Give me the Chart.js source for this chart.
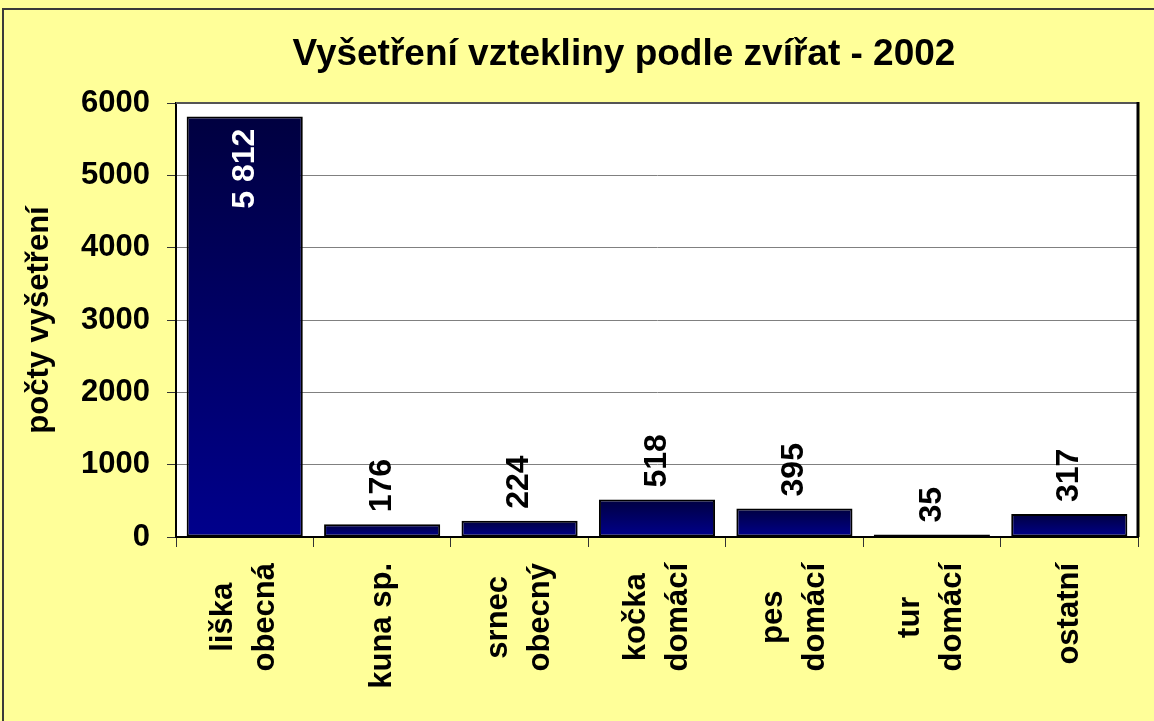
<!DOCTYPE html>
<html>
<head>
<meta charset="utf-8">
<script src="https://cdn.jsdelivr.net/npm/chart.js@4.4.1/dist/chart.umd.min.js"></script>
<style>
  html, body { margin: 0; padding: 0; background: #FFFF99; }
  #c { display: block; }
</style>
</head>
<body>
<canvas id="c" width="1154" height="721"></canvas>
<script>
// ---- data ----
const chartTitle = 'Vyšetření vztekliny podle zvířat - 2002';
const yAxisTitle = 'počty vyšetření';
const categories = [
  ['liška', 'obecná'],
  ['kuna sp.'],
  ['srnec', 'obecný'],
  ['kočka', 'domácí'],
  ['pes', 'domácí'],
  ['tur', 'domácí'],
  ['ostatní']
];
const counts = [5812, 176, 224, 518, 395, 35, 317];
const yTicks = [0, 1000, 2000, 3000, 4000, 5000, 6000];

// ---- styles ----
const FONT = '"Liberation Sans", Arial, Helvetica, sans-serif';
const BG = '#FFFF99';
const BAR_TOP = '#000040';
const BAR_BOTTOM = '#00008C';

function fmt(v) { return String(v).replace(/\B(?=(\d{3})+(?!\d))/g, ' '); }

const decorPlugin = {
  id: 'decor',
  beforeDraw(chart) {
    const { ctx, chartArea: a } = chart;
    ctx.save();
    ctx.fillStyle = BG;
    ctx.fillRect(0, 0, chart.width, chart.height);
    ctx.fillStyle = '#FFFFFF';
    ctx.fillRect(a.left, a.top, a.right - a.left, a.bottom - a.top);
    // outer frame
    ctx.strokeStyle = '#3a3a3a';
    ctx.lineWidth = 2;
    ctx.strokeRect(3, 9, chart.width + 20, chart.height + 20);
    ctx.restore();
  },
  afterDatasetsDraw(chart) {
    const { ctx, chartArea: a } = chart;
    ctx.save();
    // plot area top and right border
    ctx.strokeStyle = '#555555';
    ctx.lineWidth = 2;
    ctx.beginPath();
    ctx.moveTo(a.left, a.top);
    ctx.lineTo(a.right, a.top);
    ctx.stroke();
    ctx.strokeStyle = '#000000';
    ctx.lineWidth = 3;
    ctx.beginPath();
    ctx.moveTo(a.right, a.top - 1);
    ctx.lineTo(a.right, a.bottom);
    ctx.stroke();

    // value labels
    const meta = chart.getDatasetMeta(0);
    const data = chart.data.datasets[0].data;
    ctx.font = 'bold 32px ' + FONT;
    ctx.textBaseline = 'middle';
    meta.data.forEach((bar, i) => {
      const txt = fmt(data[i]);
      const w = ctx.measureText(txt).width;
      ctx.save();
      if (bar.y - 12 - w < a.top) {
        ctx.translate(bar.x, bar.y + 12);
        ctx.rotate(-Math.PI / 2);
        ctx.textAlign = 'right';
        ctx.fillStyle = '#FFFFFF';
      } else {
        ctx.translate(bar.x, bar.y - 12);
        ctx.rotate(-Math.PI / 2);
        ctx.textAlign = 'left';
        ctx.fillStyle = '#000000';
      }
      ctx.fillText(txt, 0, 0);
      ctx.restore();
    });
    ctx.restore();
  },
  afterDraw(chart) {
    const { ctx } = chart;
    ctx.save();
    // chart title
    ctx.font = 'bold 37px ' + FONT;
    ctx.fillStyle = '#000000';
    ctx.textAlign = 'center';
    ctx.textBaseline = 'middle';
    ctx.fillText(chartTitle, 624, 55);

    // category labels (rotated, lines centred)
    const xs = chart.scales.x;
    ctx.font = 'bold 31px ' + FONT;
    const lineGap = 42;
    const topY = xs.top + 26;
    chart.data.labels.forEach((lines, i) => {
      const cx = xs.getPixelForValue(i);
      const maxW = Math.max(...lines.map(l => ctx.measureText(l).width));
      const cy = topY + maxW / 2;
      lines.forEach((line, j) => {
        const lx = cx + (j - (lines.length - 1) / 2) * lineGap;
        ctx.save();
        ctx.translate(lx, cy);
        ctx.rotate(-Math.PI / 2);
        ctx.textAlign = 'center';
        ctx.textBaseline = 'middle';
        ctx.fillText(line, 0, 0);
        ctx.restore();
      });
    });
    ctx.restore();
  }
};

new Chart(document.getElementById('c'), {
  type: 'bar',
  data: {
    labels: categories,
    datasets: [{
      data: counts,
      backgroundColor: (c) => {
        const chart = c.chart;
        if (!chart.chartArea || c.type !== 'data') return BAR_BOTTOM;
        const ys = chart.scales.y;
        const top = ys.getPixelForValue(c.raw);
        const base = ys.getPixelForValue(0);
        if (!isFinite(top) || !isFinite(base) || top === base) return BAR_BOTTOM;
        const g = chart.ctx.createLinearGradient(0, top, 0, base);
        g.addColorStop(0, BAR_TOP);
        g.addColorStop(1, BAR_BOTTOM);
        return g;
      },
      borderColor: '#000000',
      borderWidth: 2,
      borderSkipped: false,
      barPercentage: 0.845,
      categoryPercentage: 1.0
    }]
  },
  options: {
    responsive: false,
    animation: false,
    devicePixelRatio: 1,
    layout: { padding: { top: 103, right: 16, bottom: 0, left: 0 } },
    plugins: {
      legend: { display: false },
      tooltip: { enabled: false },
      title: { display: false }
    },
    scales: {
      x: {
        offset: true,
        ticks: { display: false },
        grid: {
          display: true,
          offset: true,
          drawOnChartArea: false,
          drawTicks: true,
          tickLength: 10,
          color: '#333333',
          lineWidth: 1
        },
        border: { display: true, color: '#000000', width: 2 },
        afterFit(scale) { scale.height = 184; }
      },
      y: {
        min: 0,
        max: 6000,
        afterBuildTicks(scale) { scale.ticks = yTicks.map(v => ({ value: v })); },
        ticks: {
          stepSize: 1000,
          padding: 17,
          color: '#000000',
          font: { family: FONT, size: 31, weight: 'bold' },
          callback: (v) => String(v)
        },
        grid: {
          color: (c) => (c.tick && c.tick.value > 0) ? '#808080' : 'rgba(0,0,0,0)',
          tickColor: '#333333',
          tickLength: 9,
          lineWidth: 1
        },
        border: { display: true, color: '#000000', width: 2 },
        title: {
          display: true,
          text: yAxisTitle,
          color: '#000000',
          font: { family: FONT, size: 31, weight: 'bold' },
          padding: { top: 21, bottom: 0 }
        },
        afterFit(scale) { scale.width = 176; }
      }
    }
  },
  plugins: [decorPlugin]
});
</script>
</body>
</html>
